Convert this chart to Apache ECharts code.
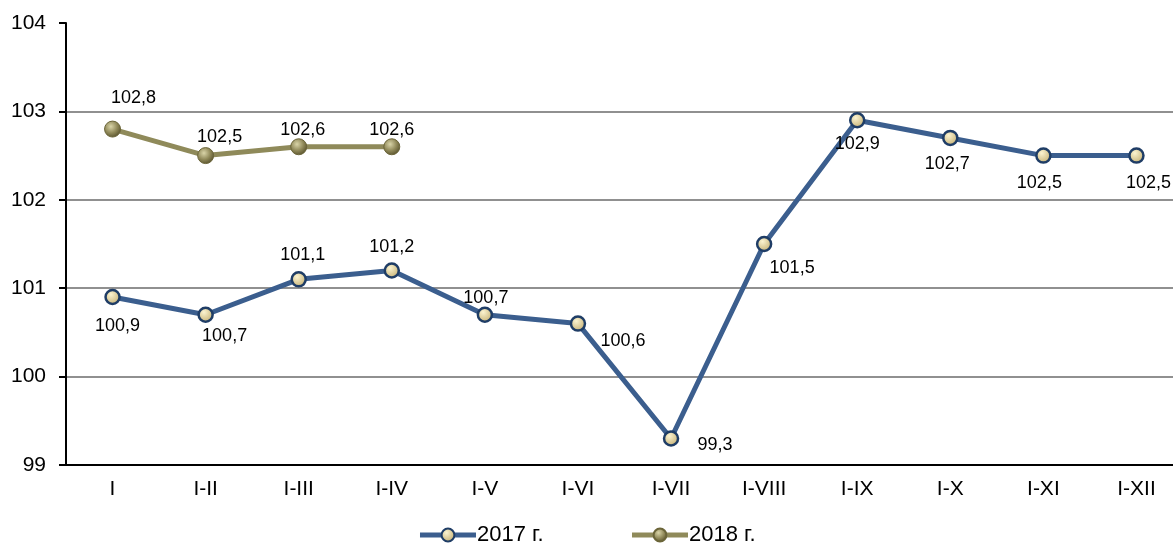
<!DOCTYPE html>
<html>
<head>
<meta charset="utf-8">
<title>2017-2018</title>
<script src="https://cdn.jsdelivr.net/npm/echarts@6/dist/echarts.min.js"></script>
<style>
  html, body { margin: 0; padding: 0; background: #fff; }
  #main { width: 1173px; height: 543px; }
</style>
</head>
<body>
<div id="main"></div>
<script>
// данные
var months = ['I', 'I-II', 'I-III', 'I-IV', 'I-V', 'I-VI', 'I-VII', 'I-VIII', 'I-IX', 'I-X', 'I-XI', 'I-XII']
var values2017 = [100.9, 100.7, 101.1, 101.2, 100.7, 100.6, 99.3, 101.5, 102.9, 102.7, 102.5, 102.5]
var values2018 = [102.8, 102.5, 102.6, 102.6]
var yTicks = [99, 100, 101, 102, 103, 104]

// сдвиг подписей относительно точки
var offsets2017 = [[5, 29], [19, 21], [4, -24], [0, -23], [1, -17], [45, 17], [44, 7], [28, 24], [0, 24], [-3, 26], [-4, 27], [12, 27]]
var offsets2018 = [[21, -31], [14, -19], [4, -17], [0, -17]]

var fmt = function(v) {
    return String(v.toFixed(1)).replace('.', ',')
}

var withLabels = function(values, offsets) {
    var r = []
    for (var i = 0; i < values.length; i++) {
        r.push({
            value: values[i],
            label: { offset: offsets[i] }
        })
    }
    return r
}

var marker2017 = {
    type: 'radial', x: 0.4, y: 0.35, r: 0.6,
    colorStops: [{ offset: 0, color: '#fbf3d0' }, { offset: 1, color: '#c9b57a' }]
}
var marker2018 = {
    type: 'radial', x: 0.4, y: 0.35, r: 0.65,
    colorStops: [{ offset: 0, color: '#d9d4a8' }, { offset: 0.6, color: '#8e8757' }, { offset: 1, color: '#5c5631' }]
}

var chart = echarts.init(document.getElementById('main'))
var option = {
    animation: false,
    textStyle: { fontFamily: 'Liberation Sans, Arial, sans-serif' },
    grid: { left: 66, width: 1117, top: 23, bottom: 78, containLabel: false, outerBoundsMode: 'none' },
    legend: {
        top: 519,
        left: 'center',
        itemWidth: 56,
        itemHeight: 16,
        itemGap: 86,
        lineStyle: { width: 5 },
        textStyle: { fontSize: 22, color: '#000', padding: [0, 0, 0, -4] },
        data: ['2017 г.', '2018 г.']
    },
    xAxis: {
        type: 'category',
        data: months,
        boundaryGap: true,
        axisLine: { lineStyle: { color: '#000', width: 2 } },
        axisTick: { length: 7, lineStyle: { color: '#000', width: 2 } },
        axisLabel: { fontSize: 21, color: '#000', margin: 14 }
    },
    yAxis: {
        type: 'value',
        min: yTicks[0],
        max: yTicks[yTicks.length - 1],
        interval: 1,
        axisLine: { show: true, lineStyle: { color: '#000', width: 2 } },
        axisTick: { show: true, inside: false, length: 7, lineStyle: { color: '#000', width: 2 } },
        axisLabel: { fontSize: 21, color: '#000', margin: 20 },
        splitLine: {
            show: true,
            lineStyle: { color: ['#909090', '#909090', '#909090', '#909090', '#909090', 'rgba(0,0,0,0)'], width: 2 }
        }
    },
    series: [
        {
            name: '2017 г.',
            type: 'line',
            data: withLabels(values2017, offsets2017),
            symbol: 'circle',
            symbolSize: 14,
            lineStyle: { color: '#3b5e8e', width: 5 },
            itemStyle: { color: marker2017, borderColor: '#1f3d66', borderWidth: 2.5 },
            label: {
                show: true,
                position: 'inside',
                fontSize: 18,
                color: '#000',
                formatter: function(p) { return fmt(p.value) }
            },
            z: 3
        },
        {
            name: '2018 г.',
            type: 'line',
            data: withLabels(values2018, offsets2018),
            symbol: 'circle',
            symbolSize: 16,
            lineStyle: { color: '#8f8a5a', width: 5 },
            itemStyle: { color: marker2018, borderColor: '#6b6539', borderWidth: 1 },
            label: {
                show: true,
                position: 'inside',
                fontSize: 18,
                color: '#000',
                formatter: function(p) { return fmt(p.value) }
            },
            z: 3
        }
    ]
}
chart.setOption(option)
</script>
</body>
</html>
